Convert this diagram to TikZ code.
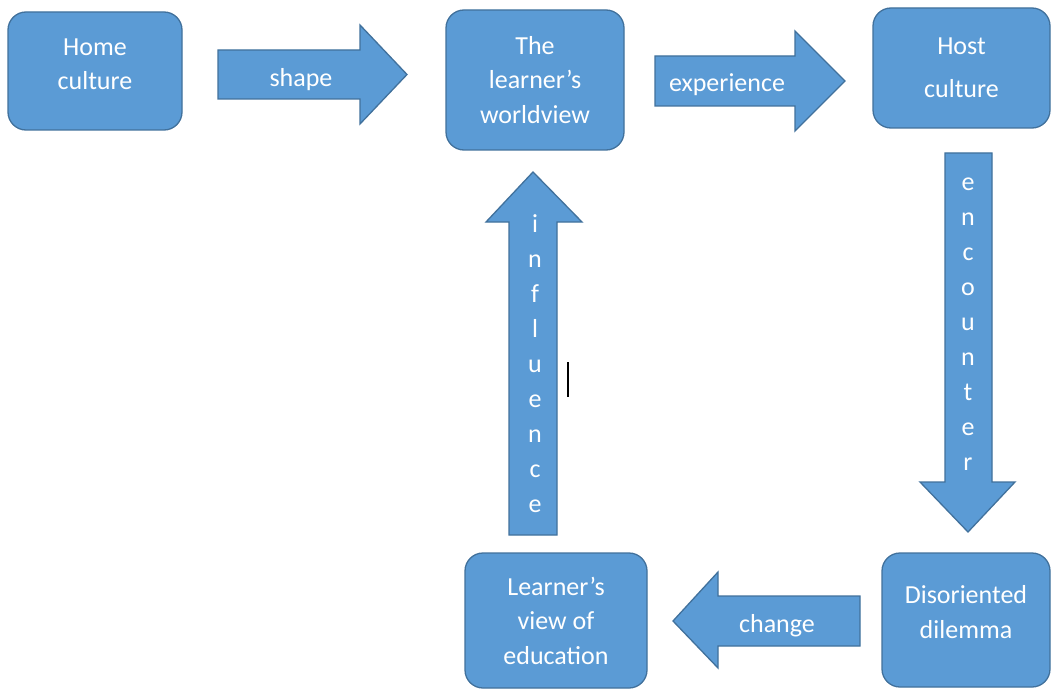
\documentclass[tikz,border=0pt]{standalone}
\usepackage{fontspec}
\setmainfont{Carlito}
\definecolor{boxblue}{HTML}{5B9BD5}
\definecolor{boxline}{HTML}{41719C}

\tikzset{
	box/.style={rectangle, rounded corners=18pt, fill=boxblue, draw=boxline, line width=1.3pt, inner sep=0pt, text=white, align=center, font=\fontsize{26}{34.5}\selectfont},
	blockarrow/.style={fill=boxblue, draw=boxline, line width=1.3pt},
	arrowtext/.style={text=white, anchor=base, font=\fontsize{26}{30}\selectfont}
}

\begin{document}
\begin{tikzpicture}[x=1pt, y=-1pt]
		
		\fill[white] (0,0) rectangle (1052,690);
		
		% Boxes
		\node[box, minimum width=174pt, minimum height=118pt, text depth=14pt] (home) at (95, 71) {Home\\culture};
		\node[box, minimum width=178pt, minimum height=140pt] (world) at (535, 80) {The\\learner’s\\worldview};
		\node[box, minimum width=177pt, minimum height=120pt] (host) at (961.5, 68) {Host\\[8pt]culture};
		\node[box, minimum width=168pt, minimum height=134pt, text depth=16pt] (dilemma) at (966, 620) {Disoriented\\dilemma};
		\node[box, minimum width=182pt, minimum height=135pt] (eduview) at (556, 620.5) {Learner’s\\view of\\education};
		
		% Block arrows
		\draw[blockarrow] (218,50) -- (360,50) -- (360,25) -- (407,74.5) -- (360,124) -- (360,99) -- (218,99) -- cycle;
		\node[arrowtext] (shape) at (301, 87) {shape};
		\draw[blockarrow] (655,56) -- (795,56) -- (795,31) -- (845,81) -- (795,131) -- (795,106) -- (655,106) -- cycle;
		\node[arrowtext] (experience) at (727, 92) {experience};
		\draw[blockarrow] (945,153) -- (992,153) -- (992,482) -- (1015,482) -- (968,532) -- (920,482) -- (945,482) -- cycle;
		\foreach \ch [count=\i] in {e,n,c,o,u,n,t,e,r}
			\node[arrowtext] (enc\i) at (968, 155+35*\i) {\ch};
		\draw[blockarrow] (860,596) -- (718,596) -- (718,572) -- (673,621) -- (718,668) -- (718,646) -- (860,646) -- cycle;
		\node[arrowtext] (change) at (777, 632) {change};
		\draw[blockarrow] (509,535) -- (509,222) -- (486,222) -- (533,172) -- (582,222) -- (557,222) -- (557,535) -- cycle;
		\foreach \ch [count=\i] in {i,n,f,l,u,e,n,c,e}
			\node[arrowtext] (infl\i) at (535, 197+35*\i) {\ch};
		
		% Cursor mark
		\draw[line width=2pt] (568,362) -- (568,397);
		
\end{tikzpicture}
\end{document}
